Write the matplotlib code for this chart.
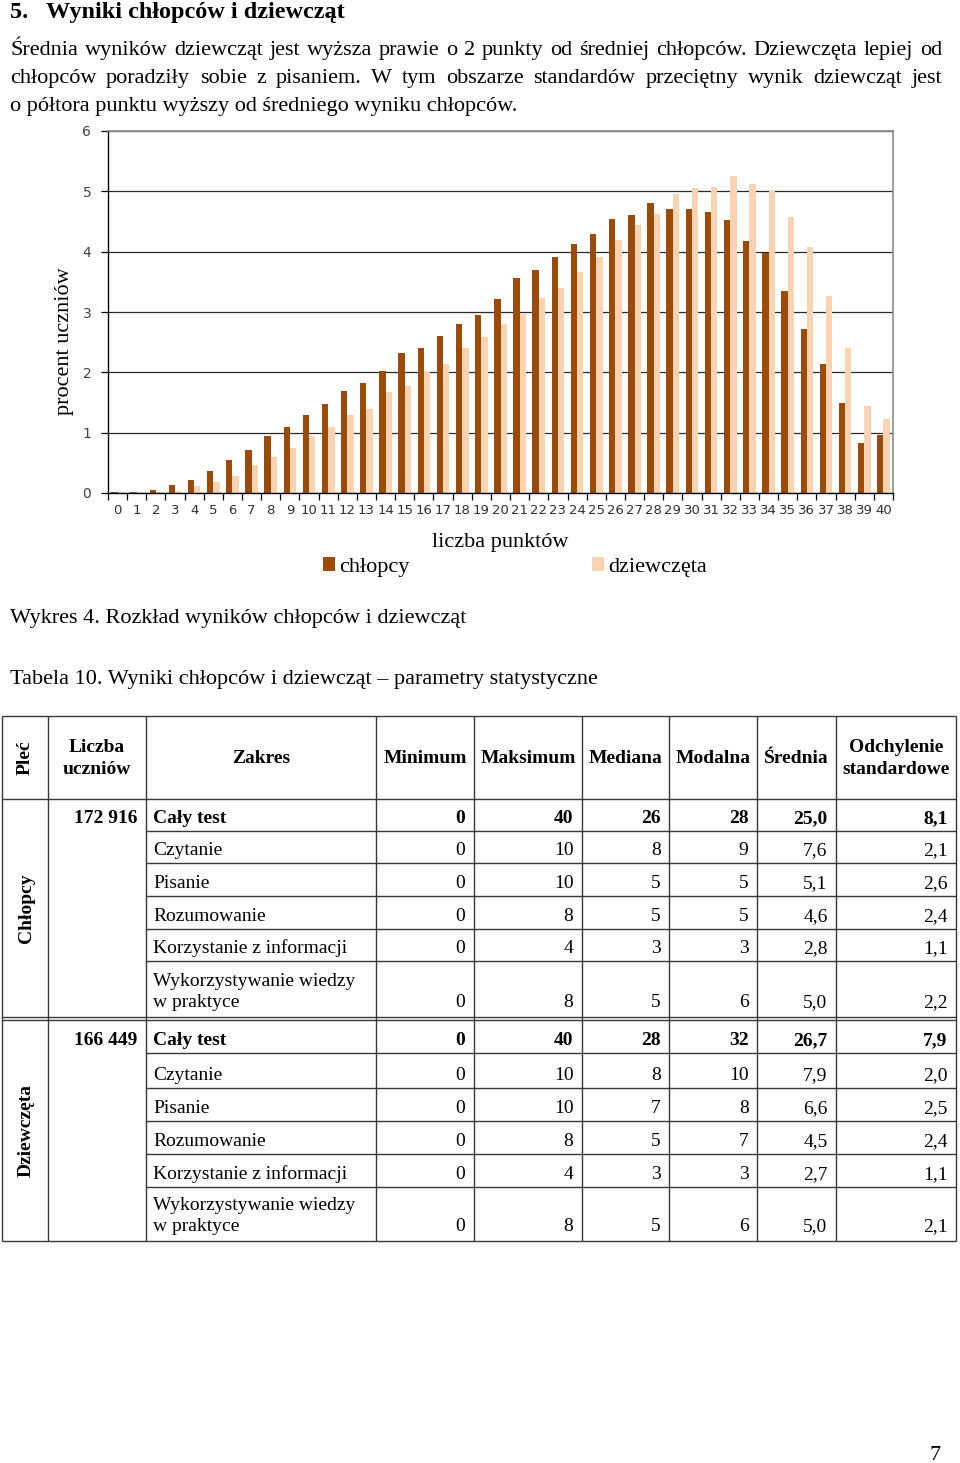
import numpy as np
import matplotlib
matplotlib.use('Agg')
import matplotlib.pyplot as plt

# Percent of students for each score 0..40
points = np.arange(0, 41)
boys = [0.02, 0.02, 0.05, 0.13, 0.21, 0.36, 0.55, 0.71, 0.95, 1.09,
        1.29, 1.47, 1.69, 1.83, 2.03, 2.32, 2.41, 2.60, 2.80, 2.95,
        3.22, 3.56, 3.69, 3.91, 4.12, 4.29, 4.54, 4.60, 4.80, 4.71,
        4.71, 4.66, 4.52, 4.18, 3.97, 3.35, 2.72, 2.13, 1.49, 0.83, 0.96]
girls = [0.01, 0.00, 0.01, 0.04, 0.11, 0.18, 0.29, 0.46, 0.60, 0.74,
         0.94, 1.09, 1.29, 1.40, 1.68, 1.78, 2.00, 2.14, 2.40, 2.59,
         2.80, 2.97, 3.23, 3.39, 3.66, 3.91, 4.19, 4.44, 4.63, 4.96,
         5.05, 5.07, 5.25, 5.12, 5.02, 4.57, 4.07, 3.26, 2.41, 1.45, 1.23]
series_labels = ['chłopcy', 'dziewczęta']

# Table 10
headers = ['Pleć', 'Liczba\nuczniów', 'Zakres', 'Minimum', 'Maksimum',
           'Mediana', 'Modalna', 'Średnia', 'Odchylenie\nstandardowe']
groups = ['Chłopcy', 'Dziewczęta']
counts = ['172 916', '166 449']
areas = ['Cały test', 'Czytanie', 'Pisanie', 'Rozumowanie',
         'Korzystanie z informacji', 'Wykorzystywanie wiedzy\nw praktyce']
boys_stats = [['0', '40', '26', '28', '25,0', '8,1'],
              ['0', '10', '8', '9', '7,6', '2,1'],
              ['0', '10', '5', '5', '5,1', '2,6'],
              ['0', '8', '5', '5', '4,6', '2,4'],
              ['0', '4', '3', '3', '2,8', '1,1'],
              ['0', '8', '5', '6', '5,0', '2,2']]
girls_stats = [['0', '40', '28', '32', '26,7', '7,9'],
               ['0', '10', '8', '10', '7,9', '2,0'],
               ['0', '10', '7', '8', '6,6', '2,5'],
               ['0', '8', '5', '7', '4,5', '2,4'],
               ['0', '4', '3', '3', '2,7', '1,1'],
               ['0', '8', '5', '6', '5,0', '2,1']]

heading = 'Wyniki chłopców i dziewcząt'
para = ['Średnia wyników dziewcząt jest wyższa prawie o 2 punkty od średniej chłopców. Dziewczęta lepiej od',
        'chłopców poradziły sobie z pisaniem. W tym obszarze standardów przeciętny wynik dziewcząt jest',
        'o półtora punktu wyższy od średniego wyniku chłopców.']
caption_fig = 'Wykres 4. Rozkład wyników chłopców i dziewcząt'
caption_tab = 'Tabela 10. Wyniki chłopców i dziewcząt – parametry statystyczne'

SERIF = 'Liberation Serif'
W, H = 960, 1463
DARK = '#9C4A08'
LIGHT = '#FAD3B3'
LINE = '#383838'

fig = plt.figure(figsize=(W / 100, H / 100), dpi=100)

# page layer in pixel coordinates (y down)
page = fig.add_axes([0, 0, 1, 1])
page.set_xlim(0, W)
page.set_ylim(H, 0)
page.axis('off')


def txt(x, y, s, size=16, **kw):
    kw.setdefault('va', 'baseline')
    return page.text(x, y, s, fontsize=size, family=SERIF, **kw)


def justified(y, text, x0, x1, size=16):
    words = text.split()
    arts = [txt(0, y, w, size) for w in words]
    r = fig.canvas.get_renderer()
    widths = [a.get_window_extent(r).width for a in arts]
    gap = (x1 - x0 - sum(widths)) / (len(words) - 1)
    x = x0
    for a, wd in zip(arts, widths):
        a.set_x(x)
        x += wd + gap


txt(10, 18, '5.', 17.5, weight='bold')
txt(46, 18, heading, 17.5, weight='bold')
justified(55, para[0], 10, 942)
justified(83, para[1], 10, 942)
txt(10, 111, para[2])
txt(10, 623, caption_fig)
txt(10, 684, caption_tab)
txt(941, 1460, '7', ha='right')

# ---- chart ----
ax = fig.add_axes([108 / W, 1 - 493 / H, 785 / W, 362 / H])
bw = 0.33
bars_b = ax.bar(points - bw / 2, boys, bw, color=DARK, label=series_labels[0])
bars_g = ax.bar(points + bw / 2, girls, bw, color=LIGHT, label=series_labels[1])
ax.set_xlim(-0.5, 40.5)
ax.set_ylim(0, 6)
ax.set_axisbelow(True)
ax.yaxis.grid(True, color='#2a2a2a', lw=0.9)
ax.set_yticks(range(0, 7))
ax.set_xticks(points)
ax.set_xticks(np.arange(-0.5, 41, 1), minor=True)
ax.tick_params(axis='x', which='major', length=0, pad=8, labelsize=9.5,
               labelcolor='#303030')
ax.tick_params(axis='x', which='minor', length=5, width=0.9, direction='out')
ax.tick_params(axis='y', length=5, width=0.9, direction='out', pad=7,
               labelsize=10, labelcolor='#404040')
for s in ['top', 'right']:
    ax.spines[s].set_color('#8c8c8c')
    ax.spines[s].set_linewidth(1.2)
for s in ['left', 'bottom']:
    ax.spines[s].set_color('black')
    ax.spines[s].set_linewidth(1.0)

ax.set_ylabel('procent uczniów', family=SERIF, fontsize=16)
ax.yaxis.set_label_coords(-0.043, 0.42)
ax.set_xlabel('liczba punktów', family=SERIF, fontsize=16, va='top')
ax.xaxis.set_label_coords(0.5, -0.11)
ax.legend(handles=[bars_b, bars_g], loc='center',
          bbox_to_anchor=(515 / W, 1 - 567 / H), bbox_transform=fig.transFigure,
          ncol=2, frameon=False, prop={'family': SERIF, 'size': 16},
          handlelength=0.54, handleheight=0.54, handletextpad=0.2,
          columnspacing=8.2, borderpad=0, borderaxespad=0)

# ---- table ----
col_x = [2, 48, 146, 376, 474, 582, 669, 757, 836, 956]
top, head_bot = 716, 799
group_rows = [[799, 831, 863, 896, 929, 961, 1017],
              [1020, 1053, 1088, 1121, 1154, 1187, 1241]]
bottom = group_rows[-1][-1]
TS = 14


def hline(y, x0=col_x[0], x1=col_x[-1]):
    page.plot([x0, x1], [y, y], color=LINE, lw=1.0, solid_capstyle='butt')


hline(top)
hline(head_bot)
hline(1017)
hline(1020)
hline(bottom)
for x in col_x:
    page.plot([x, x], [top, bottom], color=LINE, lw=1.0, solid_capstyle='butt')
for edges in group_rows:
    for y in edges[1:-1]:
        hline(y, col_x[2])

# header
hy = (top + head_bot) / 2
page.text((col_x[0] + col_x[1]) / 2, hy, headers[0], rotation=90, ha='center',
          va='center', family=SERIF, fontsize=TS, weight='bold')
for i, h in enumerate(headers[1:], start=1):
    page.text((col_x[i] + col_x[i + 1]) / 2, hy + 1, h, ha='center', va='center',
              family=SERIF, fontsize=TS, weight='bold', linespacing=1.35)

pad = 8.5
for g, (name, cnt, stats) in enumerate(zip(groups, counts, [boys_stats, girls_stats])):
    edges = group_rows[g]
    page.text((col_x[0] + col_x[1]) / 2 + 1, (edges[0] + edges[-1]) / 2, name,
              rotation=90, ha='center', va='center', family=SERIF,
              fontsize=TS, weight='bold')
    txt(col_x[2] - pad, edges[1] - 8, cnt, TS, ha='right', weight='bold')
    for r, (area, vals) in enumerate(zip(areas, stats)):
        wt = 'bold' if r == 0 else 'normal'
        base = edges[r + 1] - (10 if '\n' in area else 8)
        lines = area.split('\n')
        for k, ln in enumerate(lines):
            txt(col_x[2] + 7, base - 21 * (len(lines) - 1 - k), ln, TS, weight=wt)
        for c, v in enumerate(vals):
            txt(col_x[c + 4] - pad, base, v, TS, ha='right', weight=wt)

fig.savefig('out.png', dpi=100)
